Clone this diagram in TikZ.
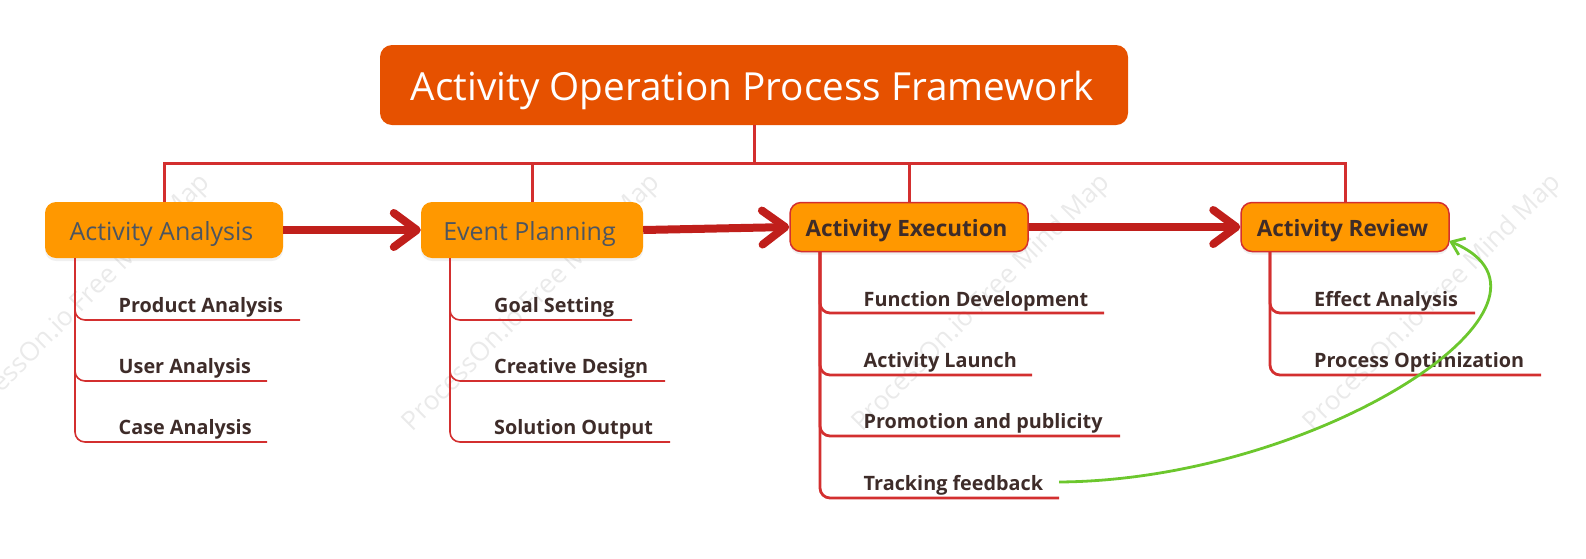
\documentclass[tikz,border=0pt]{standalone}
\usepackage{fontspec}
\setmainfont{Open Sans}
\usetikzlibrary{arrows.meta,shadows}

\definecolor{titleorange}{HTML}{E65100}
\definecolor{boxorange}{HTML}{FF9800}
\definecolor{branchred}{HTML}{D32F2F}
\definecolor{arrowred}{HTML}{C01F1B}
\definecolor{leafbrown}{HTML}{3E2C29}
\definecolor{softslate}{HTML}{4D5560}
\definecolor{linkgreen}{HTML}{6CC72D}
\definecolor{markgray}{HTML}{EAEAEA}

\tikzset{
  softshadow/.style={drop shadow={opacity=0.12,shadow xshift=0pt,shadow yshift=-3pt}},
  titlebox/.style={fill=titleorange,text=white,rounded corners=12pt,font=\fontsize{38.7}{44}\selectfont,
    inner sep=0pt,minimum width=748pt,minimum height=80pt,text height=38pt,text depth=8pt,
    execute at end node=\hspace*{3pt}},
  lightbox/.style={fill=boxorange,text=softslate,rounded corners=11pt,softshadow,
    font=\fontsize{25}{28}\selectfont,inner sep=0pt,minimum height=56pt,text height=26pt,text depth=6pt,
    execute at end node=\hspace*{5pt}},
  heavybox/.style={fill=boxorange,draw=branchred,line width=1.5pt,text=leafbrown,rounded corners=11pt,softshadow,
    font=\fontsize{22.5}{28}\selectfont\bfseries,inner sep=0pt,minimum height=49pt,text height=24pt,text depth=6pt,
    execute at end node=\hspace*{5pt}},
  leaflabel/.style={anchor=base west,inner sep=0pt,text=leafbrown,font=\fontsize{19.8}{24}\selectfont\bfseries},
  trunkline/.style={draw=branchred,line width=3pt},
  thinleaf/.style={draw=branchred,line width=1.6pt,rounded corners=10pt},
  heavyleaf/.style={draw=branchred,line width=2.8pt,rounded corners=10pt},
  flowarrow/.style={draw=arrowred,line width=8pt,-{Straight Barb[length=23pt,width=34pt,round]}},
  linkarrow/.style={draw=linkgreen,line width=2.8pt,-{Straight Barb[length=12pt,width=18pt]}},
  markstyle/.style={rotate=45,text=markgray,font=\fontsize{26.3}{30}\selectfont}
}

\begin{document}
\begin{tikzpicture}

  \useasboundingbox (0pt,0pt) rectangle (1586pt,-558pt);

  %% watermark
  \foreach \i/\xpos in {a/82,b/532,c/982,d/1433}
    \node[markstyle] (mark\i) at (\xpos pt,-303pt) {ProcessOn.io Free Mind Map};

  %% boxes
  \node[titlebox] (title) at (754pt,-85pt) {Activity Operation Process Framework};
  \node[lightbox,minimum width=238pt] (ana) at (164pt,-230pt) {Activity Analysis};
  \node[lightbox,minimum width=222pt] (plan) at (532pt,-230pt) {Event Planning};
  \node[heavybox,minimum width=238pt] (exec) at (909pt,-227pt) {Activity Execution};
  \node[heavybox,minimum width=208pt] (review) at (1345pt,-227pt) {Activity Review};

  %% top bar
  \coordinate (bar) at (754pt,-163pt);
  \draw[trunkline] (title.south) -- (bar);
  \draw[trunkline] (ana.north) |- (bar) -| (review.north);
  \draw[trunkline] (plan.north) -- (plan.north |- bar);
  \draw[trunkline] (exec.north) -- (exec.north |- bar);

  %% main flow
  \draw[flowarrow] (ana.east) -- (plan.west);
  \draw[flowarrow] (plan.east) -- (exec.west);
  \draw[flowarrow] (exec.east) -- (review.west);

  %% leaves of ana
  \coordinate (anaroot) at (75pt,-258pt);
  \node[leaflabel] (product) at (118.5pt,-312pt) {Product Analysis};
  \node[leaflabel] (user) at (118.5pt,-373.5pt) {User Analysis};
  \node[leaflabel] (case) at (118.5pt,-434.5pt) {Case Analysis};
  \coordinate (productend) at (300pt,-320pt);
  \coordinate (userend) at (267pt,-381pt);
  \coordinate (caseend) at (267pt,-442pt);
  \draw[thinleaf] (anaroot) |- (productend);
  \draw[thinleaf] (anaroot) |- (userend);
  \draw[thinleaf] (anaroot) |- (caseend);

  %% leaves of plan
  \coordinate (planroot) at (450pt,-258pt);
  \node[leaflabel] (goal) at (494pt,-312pt) {Goal Setting};
  \node[leaflabel] (creative) at (494pt,-373.5pt) {Creative Design};
  \node[leaflabel] (solution) at (494pt,-434.5pt) {Solution Output};
  \coordinate (goalend) at (632pt,-320pt);
  \coordinate (creativeend) at (665pt,-381pt);
  \coordinate (solutionend) at (670pt,-442pt);
  \draw[thinleaf] (planroot) |- (goalend);
  \draw[thinleaf] (planroot) |- (creativeend);
  \draw[thinleaf] (planroot) |- (solutionend);

  %% leaves of exec
  \coordinate (execroot) at (820pt,-251pt);
  \node[leaflabel] (function) at (863.5pt,-306pt) {Function Development};
  \node[leaflabel] (launch) at (863.5pt,-367.5pt) {Activity Launch};
  \node[leaflabel] (promotion) at (863.5pt,-428.5pt) {Promotion and publicity};
  \node[leaflabel] (tracking) at (863.5pt,-490pt) {Tracking feedback};
  \coordinate (functionend) at (1104pt,-313pt);
  \coordinate (launchend) at (1032pt,-375pt);
  \coordinate (promotionend) at (1120pt,-436pt);
  \coordinate (trackingend) at (1059pt,-498pt);
  \draw[heavyleaf] (execroot) |- (functionend);
  \draw[heavyleaf] (execroot) |- (launchend);
  \draw[heavyleaf] (execroot) |- (promotionend);
  \draw[heavyleaf] (execroot) |- (trackingend);

  %% leaves of review
  \coordinate (reviewroot) at (1270pt,-251pt);
  \node[leaflabel] (effect) at (1314pt,-306pt) {Effect Analysis};
  \node[leaflabel] (optimize) at (1314pt,-367.5pt) {Process Optimization};
  \coordinate (effectend) at (1475pt,-313pt);
  \coordinate (optimizeend) at (1541pt,-375pt);
  \draw[heavyleaf] (reviewroot) |- (effectend);
  \draw[heavyleaf] (reviewroot) |- (optimizeend);

  %% green link
  \coordinate (linkstart) at (1059pt,-482pt);
  \coordinate (linkend) at (1449pt,-241pt);
  \draw[linkarrow] (linkstart) .. controls (1320pt,-480pt) and (1593pt,-301pt) .. (linkend);

\end{tikzpicture}
\end{document}
